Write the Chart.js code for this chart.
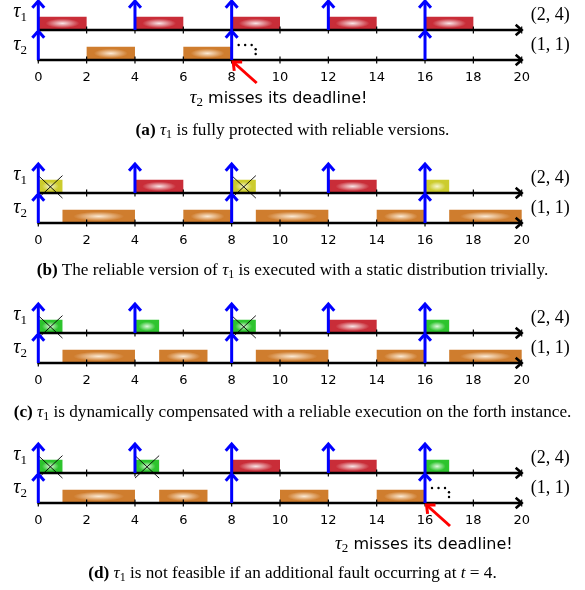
<!DOCTYPE html>
<html>
<head>
<meta charset="utf-8">
<script src="https://cdn.jsdelivr.net/npm/chart.js@4.4.1/dist/chart.umd.min.js"></script>
<style>
  body { margin: 0; width: 585px; height: 590px; background: #fff; position: relative; overflow: hidden; }
  canvas { position: absolute; left: 0; }
  .cap { position: absolute; left: 0; width: 585px; text-align: center; font-family: "Liberation Serif", serif;
         font-size: 17.2px; line-height: 20px; color: #000; white-space: nowrap; }
  .cap sub { font-size: 12px; vertical-align: -3px; line-height: 0; }
</style>
</head>
<body>
<canvas id="panelA" width="585" height="140" style="top:-8px"></canvas>
<canvas id="panelB" width="585" height="140" style="top:155px"></canvas>
<canvas id="panelC" width="585" height="140" style="top:295px"></canvas>
<canvas id="panelD" width="585" height="140" style="top:435px"></canvas>

<div class="cap" style="top:120px"><b>(a)</b> <i>τ</i><sub>1</sub> is fully protected with reliable versions.</div>
<div class="cap" style="top:260px"><b>(b)</b> The reliable version of <i>τ</i><sub>1</sub> is executed with a static distribution trivially.</div>
<div class="cap" style="top:402px"><b>(c)</b> <i>τ</i><sub>1</sub> is dynamically compensated with a reliable execution on the forth instance.</div>
<div class="cap" style="top:563px"><b>(d)</b> <i>τ</i><sub>1</sub> is not feasible if an additional fault occurring at <i>t</i> = 4.</div>

<script>
// time axis
const xTicks = [0, 2, 4, 6, 8, 10, 12, 14, 16, 18, 20];
const tau1Releases = [0, 4, 8, 12, 16];
const tau2Releases = [0, 8, 16];
const taskNames = ['1', '2'];          // tau subscripts
const taskParams = ['(2, 4)', '(1, 1)'];

// jobs: [start, end, version, faulty]
// R = reliable version, S = static primary, P = primary, L = tau2 job
const tau1JobsA = [[0, 2, 'R'], [4, 6, 'R'], [8, 10, 'R'], [12, 14, 'R'], [16, 18, 'R']];
const tau2JobsA = [[2, 4, 'L'], [6, 8, 'L']];
const tau1JobsB = [[0, 1, 'S', 1], [4, 6, 'R'], [8, 9, 'S', 1], [12, 14, 'R'], [16, 17, 'S']];
const tau2JobsB = [[1, 4, 'L'], [6, 8, 'L'], [9, 12, 'L'], [14, 16, 'L'], [17, 20, 'L']];
const tau1JobsC = [[0, 1, 'P', 1], [4, 5, 'P'], [8, 9, 'P', 1], [12, 14, 'R'], [16, 17, 'P']];
const tau2JobsC = [[1, 4, 'L'], [5, 7, 'L'], [9, 12, 'L'], [14, 16, 'L'], [17, 20, 'L']];
const tau1JobsD = [[0, 1, 'P', 1], [4, 5, 'P', 1], [8, 10, 'R'], [12, 14, 'R'], [16, 17, 'P']];
const tau2JobsD = [[1, 4, 'L'], [5, 7, 'L'], [10, 12, 'L'], [14, 16, 'L']];

// deadline misses of tau2 (null = none)
const missA = 8;
const missD = 16;
const missText = ' misses its deadline!';

// colours: [outer, inner]
const palette = {
  R: ['#c92d38', '#f8e4e6'],
  S: ['#cccc2e', '#f6f6cf'],
  P: ['#2ec42e', '#dcf8dc'],
  L: ['#cf7d2e', '#fbe9d3']
};

function chevron(ctx, tx, ty, ang, len, spread) {
  ctx.beginPath();
  ctx.moveTo(tx + Math.cos(ang + Math.PI - spread) * len, ty + Math.sin(ang + Math.PI - spread) * len);
  ctx.lineTo(tx, ty);
  ctx.lineTo(tx + Math.cos(ang + Math.PI + spread) * len, ty + Math.sin(ang + Math.PI + spread) * len);
  ctx.stroke();
}

function arrow(ctx, x1, y1, x2, y2, color, w, len) {
  ctx.strokeStyle = color;
  ctx.lineWidth = w;
  ctx.lineCap = 'butt';
  ctx.lineJoin = 'miter';
  ctx.beginPath();
  ctx.moveTo(x1, y1);
  ctx.lineTo(x2, y2);
  ctx.stroke();
  chevron(ctx, x2, y2, Math.atan2(y2 - y1, x2 - x1), len, 0.72);
}

function jobBox(ctx, x0, y0, x1, y1, cols) {
  const w = x1 - x0, h = y1 - y0;
  ctx.save();
  ctx.beginPath();
  ctx.rect(x0, y0, w, h);
  ctx.clip();
  ctx.translate(x0 + w / 2, y0 + h / 2);
  ctx.scale(w / 2, h / 2);
  const g = ctx.createRadialGradient(0, 0, 0, 0, 0, 1);
  g.addColorStop(0, cols[1]);
  g.addColorStop(0.7, cols[0]);
  g.addColorStop(1, cols[0]);
  ctx.fillStyle = g;
  ctx.fillRect(-1.5, -1.5, 3, 3);
  ctx.restore();
}

function scheduleDrawer(tau1Jobs, tau2Jobs, miss, look) {
  return {
    id: 'schedule',
    afterDraw(chart) {
      const { ctx, chartArea } = chart;
      const x = chart.scales.x, y = chart.scales.y;
      const px = v => x.getPixelForValue(v);
      const py = v => y.getPixelForValue(v);
      const barH = 0.443;
      ctx.save();

      // jobs
      [[tau1Jobs, 1], [tau2Jobs, 0]].forEach(([jobs, row]) => {
        jobs.forEach(([s, e, kind, faulty]) => {
          jobBox(ctx, px(s), py(row + barH), px(e), py(row), palette[kind]);
          if (faulty) {
            ctx.strokeStyle = '#000';
            ctx.lineWidth = 0.9;
            ctx.beginPath();
            ctx.moveTo(px(s), py(row + 0.58));
            ctx.lineTo(px(e), py(row - 0.17));
            ctx.moveTo(px(e), py(row + 0.58));
            ctx.lineTo(px(s), py(row - 0.17));
            ctx.stroke();
          }
        });
      });

      // time axes with tick marks
      [1, 0].forEach(row => {
        ctx.strokeStyle = '#000';
        ctx.lineWidth = 1.2;
        ctx.beginPath();
        xTicks.forEach(t => {
          ctx.moveTo(px(t), py(row) - 3.5);
          ctx.lineTo(px(t), py(row) + 3.5);
        });
        ctx.stroke();
        arrow(ctx, px(xTicks[0]) - 1, py(row), px(xTicks[xTicks.length - 1]), py(row), '#000', 2.6, 8);
      });

      // releases
      tau1Releases.forEach(t => arrow(ctx, px(t), py(1), px(t), py(2) + 1, '#0000ff', 3, 9));
      tau2Releases.forEach(t => arrow(ctx, px(t), py(0), px(t), py(1) + 1, '#0000ff', 3, 9));

      // task names and parameters
      ctx.fillStyle = '#000';
      [1, 0].forEach((row, i) => {
        const base = py(row) - (row ? 13 : 10);
        ctx.font = 'italic 20px "Liberation Serif"';
        ctx.textAlign = 'left';
        ctx.textBaseline = 'alphabetic';
        ctx.fillText('τ', chartArea.left - 25, base);
        const tw = ctx.measureText('τ').width;
        ctx.font = '13px "Liberation Serif"';
        ctx.fillText(taskNames[i], chartArea.left - 25 + tw, base + 4);
        ctx.font = '18px "Liberation Serif"';
        ctx.textBaseline = 'middle';
        ctx.fillText(taskParams[i], chartArea.right + 9, py(row + 0.5));
      });

      // deadline miss
      if (miss !== null) {
        const mx = px(miss), my = py(0);
        ctx.fillStyle = '#000';
        [[7, -15], [13.5, -15], [20, -15], [24, -10.7], [24, -6]].forEach(([dx, dy]) => {
          ctx.beginPath();
          ctx.arc(mx + dx, my + dy, 1.2, 0, Math.PI * 2);
          ctx.fill();
        });
        arrow(ctx, mx + 25, my + 23, mx + 1.5, my + 2, '#ff0000', 3, 9);

        let tx = mx + look.labelDx;
        const base = my + look.labelDy;
        ctx.textBaseline = 'alphabetic';
        ctx.textAlign = 'left';
        ctx.font = 'italic 19px "Liberation Serif"';
        ctx.fillText('τ', tx, base);
        tx += ctx.measureText('τ').width;
        ctx.font = '13px "Liberation Serif"';
        ctx.fillText(taskNames[1], tx, base + 3);
        tx += ctx.measureText(taskNames[1]).width;
        ctx.font = '16px "DejaVu Sans"';
        ctx.fillText(missText, tx, base);
      }
      ctx.restore();
    }
  };
}

function makePanel(id, tau1Jobs, tau2Jobs, miss, look) {
  return new Chart(document.getElementById(id), {
    type: 'scatter',
    data: { datasets: [] },
    options: {
      responsive: false,
      animation: false,
      devicePixelRatio: 1,
      layout: { padding: { left: 38.3, right: 63.3, top: 8, bottom: 42 } },
      plugins: { legend: { display: false }, tooltip: { enabled: false } },
      scales: {
        x: {
          type: 'linear',
          min: xTicks[0],
          max: xTicks[xTicks.length - 1],
          afterFit: s => { s.height = 30; },
          afterBuildTicks: s => { s.ticks = xTicks.map(v => ({ value: v })); },
          grid: { display: false, drawTicks: false },
          border: { display: false },
          ticks: {
            autoSkip: false,
            maxRotation: 0,
            padding: 10,
            color: '#000',
            font: { family: 'DejaVu Sans', size: 13 }
          }
        },
        y: { type: 'linear', min: 0, max: 2, display: false }
      }
    },
    plugins: [scheduleDrawer(tau1Jobs, tau2Jobs, miss, look)]
  });
}

makePanel('panelA', tau1JobsA, tau2JobsA, missA, { labelDx: -42, labelDy: 43 });
makePanel('panelB', tau1JobsB, tau2JobsB, null, {});
makePanel('panelC', tau1JobsC, tau2JobsC, null, {});
makePanel('panelD', tau1JobsD, tau2JobsD, missD, { labelDx: -90, labelDy: 46 });
</script>
</body>
</html>
